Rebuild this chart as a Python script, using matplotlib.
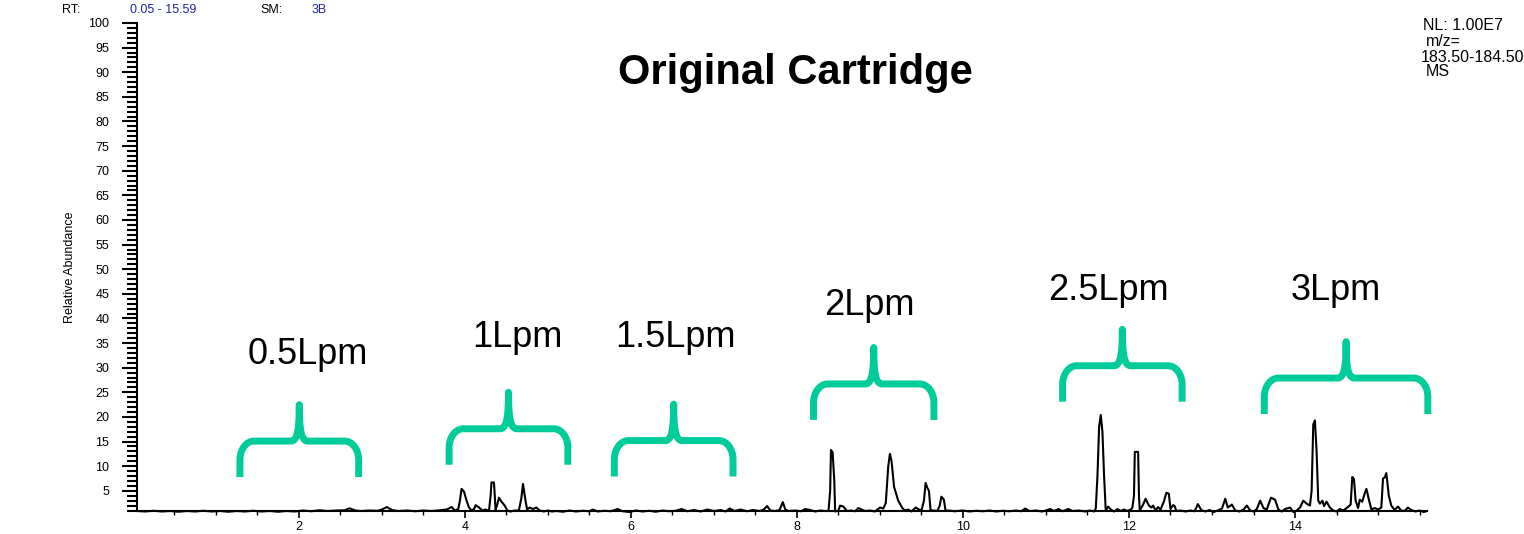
"""Chromatogram: Original Cartridge, flow-rate segments"""
import numpy as np
import matplotlib
matplotlib.use("Agg")
import matplotlib.pyplot as plt
from matplotlib.path import Path
from matplotlib.patches import PathPatch
from matplotlib.ticker import MultipleLocator

plt.rcParams['font.family'] = ['Liberation Sans', 'DejaVu Sans']

# retention time (min), relative abundance (%)
trace_points = [
    (0.05, 0.9), (0.15, 0.8), (0.25, 0.95), (0.35, 0.8), (0.45, 0.9), (0.55, 0.75),
    (0.65, 0.9), (0.75, 0.8), (0.85, 0.95), (0.95, 0.8), (1.05, 0.9), (1.15, 0.75),
    (1.25, 0.9), (1.35, 0.8), (1.45, 0.95), (1.55, 0.8), (1.65, 0.9), (1.75, 0.75),
    (1.85, 0.9), (1.95, 0.8), (2.05, 1.0), (2.15, 0.85), (2.25, 1.05), (2.35, 0.9),
    (2.45, 1.0), (2.55, 1.05), (2.61, 1.45), (2.68, 1.0), (2.75, 0.9), (2.85, 1.0),
    (2.95, 0.95), (3.0, 1.2), (3.06, 1.7), (3.12, 1.1), (3.2, 0.9), (3.3, 1.0),
    (3.4, 0.85), (3.5, 1.0), (3.6, 0.9), (3.7, 1.05), (3.78, 1.2), (3.84, 1.7),
    (3.88, 1.0), (3.92, 1.3),
    # 1 Lpm
    (3.94, 3.0), (3.96, 5.4), (3.99, 4.8), (4.02, 3.0), (4.05, 1.6), (4.08, 1.0),
    (4.11, 1.3), (4.13, 2.1), (4.17, 1.6), (4.21, 1.0), (4.25, 1.2), (4.29, 0.9),
    (4.31, 4.0), (4.32, 6.7), (4.35, 6.7), (4.37, 1.2), (4.39, 2.2), (4.41, 3.6),
    (4.44, 2.8), (4.48, 2.0), (4.51, 1.0), (4.55, 0.8), (4.60, 1.0), (4.65, 1.0),
    (4.68, 3.5), (4.70, 6.4), (4.73, 3.0), (4.75, 1.2), (4.78, 1.6), (4.82, 1.3),
    (4.86, 1.6), (4.90, 1.0), (4.95, 0.8), (5.0, 1.0), (5.05, 0.8),
    # 1.5 Lpm
    (5.1, 0.9), (5.18, 0.75), (5.26, 1.0), (5.34, 0.8), (5.42, 0.95), (5.5, 0.85),
    (5.54, 1.2), (5.6, 0.8), (5.68, 0.95), (5.76, 0.85), (5.84, 1.3), (5.9, 0.85),
    (5.98, 0.7), (6.06, 1.0), (6.14, 0.8), (6.22, 0.95), (6.3, 0.75), (6.38, 1.0),
    (6.46, 0.85), (6.54, 0.95), (6.61, 1.3), (6.68, 0.85), (6.76, 1.1), (6.84, 0.8),
    (6.92, 1.2), (7.0, 0.9), (7.08, 1.1), (7.14, 0.8), (7.19, 1.4), (7.25, 0.9),
    (7.32, 1.2), (7.4, 0.85), (7.47, 1.1), (7.55, 0.9), (7.6, 1.2), (7.64, 1.9),
    (7.68, 1.0), (7.74, 0.9), (7.79, 1.1), (7.83, 2.7), (7.86, 1.2), (7.9, 0.9),
    (7.98, 1.0), (8.05, 0.85), (8.1, 1.3), (8.16, 1.1), (8.22, 0.8), (8.28, 1.0),
    (8.34, 0.9), (8.38, 0.9),
    # 2 Lpm
    (8.40, 5.0), (8.41, 13.3), (8.43, 12.8), (8.45, 7.0), (8.46, 0.8), (8.5, 1.0),
    (8.52, 2.0), (8.56, 1.8), (8.6, 0.9), (8.65, 1.0), (8.7, 0.85), (8.74, 1.5),
    (8.78, 1.2), (8.82, 0.9), (8.88, 1.0), (8.94, 0.8), (9.0, 1.6), (9.04, 1.4),
    (9.07, 2.5), (9.10, 10.0), (9.12, 12.5), (9.14, 11.0), (9.17, 5.8), (9.22, 3.0),
    (9.27, 1.5), (9.3, 1.0), (9.34, 1.2), (9.38, 0.8), (9.43, 1.6), (9.47, 1.2),
    (9.5, 1.0), (9.53, 3.0), (9.55, 6.6), (9.57, 5.6), (9.59, 5.0), (9.61, 1.0),
    (9.65, 1.0), (9.69, 0.9), (9.72, 2.0), (9.74, 3.8), (9.77, 3.2), (9.79, 1.0),
    (9.85, 0.95), (9.9, 0.85), (10.0, 1.0), (10.08, 0.8), (10.16, 0.95), (10.24, 0.85),
    (10.32, 1.0), (10.4, 0.8), (10.48, 0.95), (10.56, 0.85), (10.64, 1.0), (10.7, 0.85),
    (10.75, 1.4), (10.8, 0.9), (10.88, 1.0), (10.95, 0.8), (11.0, 1.0), (11.05, 1.3),
    (11.1, 0.9), (11.15, 1.3), (11.2, 0.85), (11.27, 1.3), (11.32, 0.9), (11.4, 1.0),
    (11.47, 0.8), (11.53, 1.0), (11.58, 0.8), (11.6, 1.4),
    # 2.5 Lpm
    (11.62, 8.0), (11.64, 18.0), (11.66, 20.4), (11.68, 17.0), (11.70, 8.0), (11.72, 1.0),
    (11.75, 1.8), (11.78, 1.2), (11.82, 0.8), (11.86, 1.3), (11.9, 0.9), (11.94, 1.2),
    (11.98, 0.9), (12.02, 1.2), (12.04, 1.5), (12.06, 4.0), (12.07, 12.9), (12.11, 12.9),
    (12.12, 4.0), (12.13, 1.0), (12.17, 2.2), (12.20, 3.4), (12.24, 2.0), (12.27, 1.6),
    (12.29, 2.0), (12.32, 1.0), (12.35, 1.7), (12.38, 1.2), (12.42, 2.8), (12.45, 4.6),
    (12.48, 4.4), (12.5, 1.3), (12.53, 2.1), (12.55, 1.9), (12.57, 0.9),
    (12.62, 1.0), (12.68, 0.8), (12.74, 1.0), (12.79, 0.85), (12.83, 2.3), (12.87, 1.1),
    (12.92, 0.8), (12.97, 1.1), (13.02, 0.7), (13.07, 1.0), (13.12, 1.4), (13.16, 3.4),
    (13.19, 1.6), (13.24, 2.2), (13.28, 1.0), (13.33, 0.8), (13.38, 1.2), (13.42, 2.0),
    (13.46, 1.0), (13.5, 0.8), (13.54, 1.3), (13.58, 3.0), (13.62, 1.5), (13.66, 1.2),
    (13.71, 3.6), (13.76, 3.2), (13.8, 1.2), (13.84, 0.8), (13.88, 1.3), (13.94, 1.6),
    (13.98, 0.7), (14.02, 1.0), (14.06, 1.6), (14.1, 3.0), (14.14, 2.4), (14.18, 2.0),
    # 3 Lpm
    (14.2, 5.0), (14.22, 18.5), (14.24, 19.3), (14.26, 13.0), (14.28, 3.0), (14.3, 2.4),
    (14.33, 3.0), (14.35, 1.9), (14.38, 2.8), (14.42, 1.6), (14.46, 1.0), (14.5, 0.8),
    (14.54, 1.3), (14.58, 1.0), (14.63, 1.6), (14.67, 2.2), (14.69, 7.8), (14.71, 7.4),
    (14.73, 3.0), (14.76, 1.5), (14.78, 3.2), (14.81, 2.8), (14.84, 4.5), (14.86, 5.4),
    (14.89, 3.2), (14.92, 1.2), (14.96, 1.5), (15.0, 1.2), (15.04, 1.6), (15.06, 7.5),
    (15.08, 7.7), (15.1, 8.6), (15.13, 4.0), (15.16, 2.0), (15.2, 1.1), (15.24, 1.8),
    (15.28, 1.0), (15.32, 0.9), (15.36, 1.6), (15.4, 1.1), (15.45, 0.8), (15.5, 1.0),
    (15.55, 0.7), (15.59, 0.9),
]

# flow-rate segments marked with braces
flow_labels = ['0.5Lpm', '1Lpm', '1.5Lpm', '2Lpm', '2.5Lpm', '3Lpm']
seg_start = [1.29, 3.81, 5.80, 8.20, 11.20, 13.63]
seg_end = [2.72, 5.24, 7.23, 9.65, 12.64, 15.60]
brace_level = [15.1, 17.6, 15.2, 26.7, 30.4, 27.9]
label_x = [2.11, 4.63, 6.54, 8.87, 11.75, 14.49]
label_y = [32.6, 36.1, 36.1, 42.6, 45.6, 45.6]

GREEN = '#00CC99'
BLUE = '#2222AA'


def brace(ax, left, right, bar, leg=7.3, tip=7.4, rx=0.17, ry=3.8, dx=0.1):
    """horizontal curly brace, opening down, spike up in the middle"""
    c = (left + right) / 2
    bottom = bar - leg
    top = bar + tip
    k = 0.55
    verts = [(left, bottom), (left, bar - ry),
             (left, bar - ry * (1 - k)), (left + rx * (1 - k), bar), (left + rx, bar),
             (c - dx, bar),
             (c - dx * 0.25, bar), (c, bar + tip * 0.3), (c, top),
             (c, bar + tip * 0.3), (c + dx * 0.25, bar), (c + dx, bar),
             (right - rx, bar),
             (right - rx * (1 - k), bar), (right, bar - ry * (1 - k)), (right, bar - ry),
             (right, bottom)]
    codes = [Path.MOVETO, Path.LINETO,
             Path.CURVE4, Path.CURVE4, Path.CURVE4,
             Path.LINETO,
             Path.CURVE4, Path.CURVE4, Path.CURVE4,
             Path.CURVE4, Path.CURVE4, Path.CURVE4,
             Path.LINETO,
             Path.CURVE4, Path.CURVE4, Path.CURVE4,
             Path.LINETO]
    patch = PathPatch(Path(verts, codes), fill=False, edgecolor=GREEN, lw=5,
                      capstyle='butt', joinstyle='round', clip_on=False)
    ax.add_patch(patch)


rt = np.array([p[0] for p in trace_points])
abundance = np.array([p[1] for p in trace_points])

fig = plt.figure(figsize=(15.24, 5.34), dpi=100)
ax = fig.add_axes([137 / 1524, 1 - 511 / 534, 1290 / 1524, 488 / 534])

ax.plot(rt, abundance, color='black', lw=1.5, clip_on=False, zorder=3)

ax.set_xlim(0.05, 15.59)
ax.set_ylim(0.9, 100)

for sp in ['top', 'right']:
    ax.spines[sp].set_visible(False)
for sp in ['left', 'bottom']:
    ax.spines[sp].set_linewidth(1.5)

ax.yaxis.set_major_locator(MultipleLocator(5))
ax.yaxis.set_minor_locator(MultipleLocator(1))
ax.xaxis.set_major_locator(MultipleLocator(2))
ax.xaxis.set_minor_locator(MultipleLocator(0.5))
ax.set_yticks(np.arange(5, 101, 5))
ax.tick_params(axis='y', which='major', length=11, width=1.5, labelsize=9, pad=9)
ax.tick_params(axis='y', which='minor', length=7, width=1.5)
ax.tick_params(axis='x', which='major', length=5, width=1.2, labelsize=9, pad=2)
ax.tick_params(axis='x', which='minor', length=3, width=1.0)

ax.set_ylabel('Relative Abundance', fontsize=9)
ax.yaxis.set_label_coords(-0.047, 0.5)

for i, name in enumerate(flow_labels):
    brace(ax, seg_start[i], seg_end[i], brace_level[i])
    ax.text(label_x[i], label_y[i], name, fontsize=26, ha='center', va='center')

fig.text(0.5217, 1 - 73 / 534, 'Original Cartridge', fontsize=30,
         fontweight='bold', ha='center', va='center')

# header line
fig.text(62 / 1524, 1 - 10 / 534, 'RT:', fontsize=9, va='center')
fig.text(130 / 1524, 1 - 10 / 534, '0.05 - 15.59', fontsize=9, va='center', color=BLUE)
fig.text(260 / 1524, 1 - 10 / 534, 'SM:', fontsize=9, va='center')
fig.text(312 / 1524, 1 - 10 / 534, '3B', fontsize=9, va='center', color=BLUE)

# scan info, top right
fig.text(1423 / 1524, 1 - 26 / 534, 'NL: 1.00E7', fontsize=11.5, va='center')
fig.text(1426 / 1524, 1 - 41 / 534, 'm/z=', fontsize=11.5, va='center')
fig.text(1421 / 1524, 1 - 57 / 534, '183.50-184.50', fontsize=11.5, va='center')
fig.text(1426 / 1524, 1 - 71 / 534, 'MS', fontsize=11.5, va='center')

plt.savefig('out.png', dpi=100)
